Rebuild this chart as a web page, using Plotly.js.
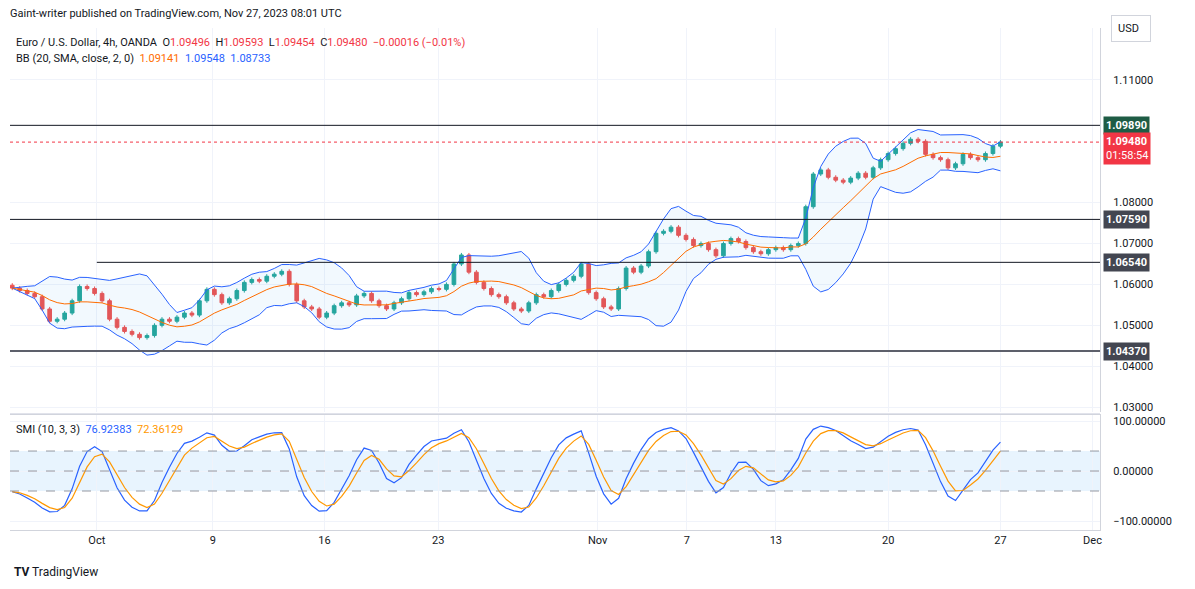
<!DOCTYPE html>
<html><head><meta charset="utf-8">
<script src="https://cdn.plot.ly/plotly-3.0.1.min.js"></script>
<style>body{margin:0;background:#fff}#chart{width:1195px;height:589px}</style>
</head><body><div id="chart"></div>
<script>
// closes (one bar per ~8h)
var closes = [1.0591,1.0585,1.0578,1.0570,1.0540,1.0510,1.0515,1.0530,1.0560,1.0595,
1.0590,1.0578,1.0560,1.0515,1.0495,1.0485,1.0478,1.0470,1.0475,1.0500,
1.0515,1.0510,1.0520,1.0530,1.0525,1.0560,1.0588,1.0575,1.0555,1.0565,
1.0585,1.0605,1.0612,1.0608,1.0620,1.0625,1.0632,1.0600,1.0560,1.0545,
1.0540,1.0520,1.0530,1.0548,1.0555,1.0550,1.0572,1.0578,1.0560,1.0548,
1.0540,1.0555,1.0565,1.0580,1.0575,1.0582,1.0590,1.0588,1.0600,1.0650,
1.0672,1.0630,1.0605,1.0590,1.0575,1.0570,1.0555,1.0540,1.0535,1.0555,
1.0575,1.0570,1.0585,1.0600,1.0610,1.0620,1.0650,1.0580,1.0565,1.0545,
1.0540,1.0590,1.0640,1.0630,1.0645,1.0680,1.0725,1.0730,1.0740,1.0720,
1.0710,1.0695,1.0700,1.0685,1.0670,1.0700,1.0712,1.0705,1.0690,1.0680,
1.0675,1.0685,1.0690,1.0685,1.0695,1.0700,1.0790,1.0870,1.0880,1.0862,
1.0855,1.0850,1.0860,1.0872,1.0862,1.0885,1.0905,1.0920,1.0932,1.0945,
1.0955,1.0950,1.0918,1.0910,1.0905,1.0885,1.0895,1.0918,1.0910,1.0905,
1.0920,1.0938,1.0948];
var firstOpen = 1.0598;
var tickPos = [11.3, 26.8, 41.7, 56.9, 78.2, 90.1, 102, 117, 132, 144.3];
var tickText = ['Oct','9','16','23','Nov','7','13','20','27','Dec'];
var priceTicks = [1.03,1.04,1.05,1.06,1.07,1.08,1.11];
var levels = [1.0989, 1.0759, 1.0654, 1.0437];
var levelColors = ['#1e5c45', '#434651', '#434651', '#434651'];
var lastPrice = 1.0948;

var n = closes.length, x = [], o = [], h = [], l = [];
for (var i = 0; i < n; i++) {
  x.push(i);
  o.push(i ? closes[i-1] : firstOpen);
  h.push(Math.max(o[i], closes[i]) + 0.0005);
  l.push(Math.min(o[i], closes[i]) - 0.0005);
}
// Bollinger
var P = 10, mid = [], up = [], lo = [];
for (var i = 0; i < n; i++) {
  var s = closes.slice(Math.max(0, i-P+1), i+1), m = s.reduce(function(a,b){return a+b;},0)/s.length;
  var sd = Math.sqrt(s.reduce(function(a,b){return a+(b-m)*(b-m);},0)/s.length);
  mid.push(m); up.push(m+2*sd); lo.push(m-2*sd);
}
// SMI
function ema(a, k){var r=[],al=2/(k+1);a.forEach(function(v,i){r.push(i?al*v+(1-al)*r[i-1]:v);});return r;}
var M = [], D = [];
for (var i = 0; i < n; i++) {
  var hh = Math.max.apply(null, h.slice(Math.max(0,i-4), i+1)), ll = Math.min.apply(null, l.slice(Math.max(0,i-4), i+1));
  M.push(closes[i]-(hh+ll)/2); D.push(hh-ll);
}
var em = ema(ema(M,3),3), ed = ema(ema(D,3),3);
var smi = em.map(function(v,i){return 100*v/(0.5*ed[i]);});
var sig = ema(smi,3);

var blue = '#2962ff', orange = '#ff6d00';
var data = [
  {x:x, y:up, type:'scatter', mode:'lines', line:{color:blue,width:1}, hoverinfo:'skip'},
  {x:x, y:lo, type:'scatter', mode:'lines', line:{color:blue,width:1}, fill:'tonexty', fillcolor:'rgba(33,150,243,0.06)', hoverinfo:'skip'},
  {x:x, y:mid, type:'scatter', mode:'lines', line:{color:orange,width:1}},
  {x:x, open:o, high:h, low:l, close:closes, type:'candlestick',
   increasing:{line:{color:'#26a69a',width:1},fillcolor:'#26a69a'},
   decreasing:{line:{color:'#ef5350',width:1},fillcolor:'#ef5350'}, whiskerwidth:0},
  {x:x, y:smi, type:'scatter', mode:'lines', line:{color:blue,width:1.2}, xaxis:'x', yaxis:'y2'},
  {x:x, y:sig, type:'scatter', mode:'lines', line:{color:'#ff9800',width:1.2}, xaxis:'x', yaxis:'y2'}
];

var shapes = [
  {type:'rect', xref:'paper', x0:0, x1:1, yref:'y2', y0:-40, y1:40, fillcolor:'rgba(33,150,243,0.1)', line:{width:0}, layer:'below'},
  {type:'line', xref:'paper', x0:0, x1:1, yref:'y2', y0:40, y1:40, line:{color:'#9598a1',width:1,dash:'dash'}},
  {type:'line', xref:'paper', x0:0, x1:1, yref:'y2', y0:0, y1:0, line:{color:'#9598a1',width:1,dash:'dash'}},
  {type:'line', xref:'paper', x0:0, x1:1, yref:'y2', y0:-40, y1:-40, line:{color:'#9598a1',width:1,dash:'dash'}},
  {type:'line', xref:'paper', x0:0, x1:1, yref:'y', y0:lastPrice, y1:lastPrice, line:{color:'#f23645',width:1,dash:'dot'}},
  {type:'line', xref:'paper', x0:0, x1:1, yref:'paper', y0:0.232, y1:0.232, line:{color:'#e0e3eb',width:1}}
];
var annotations = [];
levels.forEach(function(v, k){
  shapes.push({type:'line', xref:k==2?'x':'paper', x0:k==2?11.3:0, x1:k==2?145.3:1, yref:'y', y0:v, y1:v,
    line:{color:k==3?'#5d606b':'#131722', width:k==3?2:1}});
  annotations.push({xref:'paper', x:1.003, xanchor:'left', yref:'y', y:v, text:'<b>'+v.toFixed(5)+'</b>', showarrow:false,
    bgcolor:levelColors[k], font:{color:'#fff',size:11}, borderpad:2});
});
annotations.push({xref:'paper', x:1.003, xanchor:'left', yref:'y', y:1.0933, text:'<b>1.09480</b><br>01:58:54', showarrow:false,
  bgcolor:'#f23645', font:{color:'#fff',size:11}, borderpad:2, align:'left'});
annotations.push({xref:'paper', x:1.01, xanchor:'left', yref:'paper', y:1.0, yanchor:'middle', text:'USD  ', showarrow:false, font:{size:11,color:'#131722'}, bordercolor:'#d1d4dc', borderpad:6, borderwidth:1});
var hdr = {xref:'paper', yref:'paper', xanchor:'left', yanchor:'middle', showarrow:false, font:{size:11,color:'#131722'}};
function add(o2){var a={};for(var k in hdr)a[k]=hdr[k];for(var k2 in o2)a[k2]=o2[k2];annotations.push(a);}
add({x:0.004, y:0.972, text:'Euro / U.S. Dollar, 4h, OANDA  O<span style="color:#f23645">1.09496</span>  H<span style="color:#f23645">1.09593</span>  L<span style="color:#f23645">1.09454</span>  C<span style="color:#f23645">1.09480</span>  <span style="color:#f23645">−0.00016 (−0.01%)</span>'});
add({x:0.004, y:0.94, text:'BB (20, SMA, close, 2, 0)  <span style="color:#ff6d00">1.09141</span>  <span style="color:#2962ff">1.09548</span>  <span style="color:#2962ff">1.08733</span>'});
add({x:0.004, y:0.201, text:'SMI (10, 3, 3)  <span style="color:#2962ff">76.92383</span>  <span style="color:#ff9800">72.36129</span>'});
add({x:-0.002, y:1.028, text:'Gaint-writer published on TradingView.com, Nov 27, 2023 08:01 UTC'});
add({x:0.002, y:-0.084, text:'<b>TV</b> TradingView', font:{size:12,color:'#131722'}});

var layout = {
  width:1195, height:589, paper_bgcolor:'#fff', plot_bgcolor:'#fff', showlegend:false,
  margin:{l:10, r:95, t:28, b:59},
  font:{family:'Roboto, "Noto Sans", sans-serif', size:11, color:'#131722'},
  xaxis:{range:[-0.3,145.3], tickvals:tickPos, ticktext:tickText, showgrid:true, gridcolor:'#f0f3fa',
    zeroline:false, rangeslider:{visible:false}, showline:true, linecolor:'#d1d4dc', mirror:true, ticks:'', anchor:'y2'},
  yaxis:{domain:[0.235,1], range:[1.0288,1.1227], side:'right', tickvals:priceTicks,
    tickformat:'.5f', gridcolor:'#f0f3fa', zeroline:false, showline:true, linecolor:'#d1d4dc', ticks:'', ticklabelstandoff:10},
  yaxis2:{domain:[0,0.229], range:[-118,112], side:'right', tickvals:[100,0,-100], ticktext:['100.00000','0.00000','−100.00000'],
    gridcolor:'#f0f3fa', zeroline:false, showline:true, linecolor:'#d1d4dc', ticks:'', ticklabelstandoff:10},
  shapes:shapes, annotations:annotations
};
Plotly.newPlot('chart', data, layout, {staticPlot:true});
</script></body></html>
